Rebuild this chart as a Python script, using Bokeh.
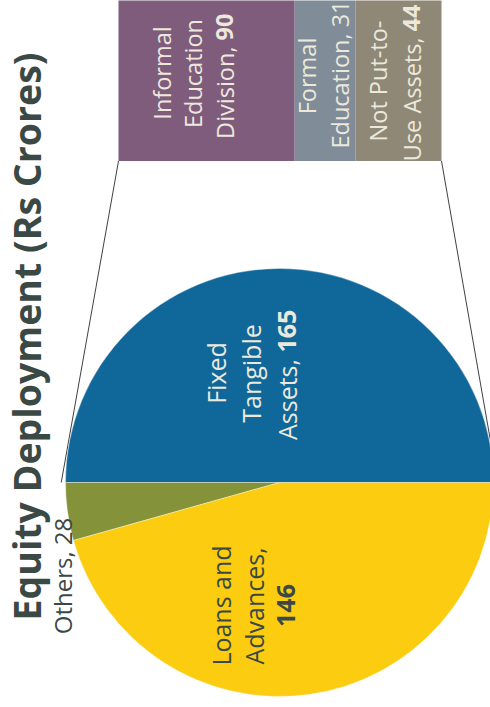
import math
from bokeh.plotting import figure
from bokeh.models import Range1d
from bokeh.embed import file_html
from bokeh.resources import INLINE
from bokeh.core.properties import value

# ---------------- data ----------------
title_text = "Equity Deployment (Rs Crores)"

pie_names = ["Fixed Tangible Assets", "Others", "Loans and Advances"]
pie_values = [165, 28, 146]
pie_sweep_deg = [180.0, 15.7, 164.3]     # slice sizes as drawn in the picture
pie_colors = ["#10679a", "#849339", "#fccc11"]

bar_names = ["Informal Education Division", "Formal Education", "Not Put-to-Use Assets"]
bar_values = [90, 31, 44]
bar_colors = ["#7f5c7c", "#808c97", "#8f8877"]

# ---------------- layout (reference pixel space) ----------------
REF_W, REF_H = 490, 707
def Y(sy):
    return REF_H - sy

FONT = value("Open Sans")
DARK = "#3b4944"
LIGHT = "#ece9dc"
BASE_K = 0.45   # anchor correction (fraction of font size)

PIE_CX, PIE_CY, PIE_R = 279.0, Y(482.0), 214.0
BAR_X0, BAR_X1 = 118.0, 441.0
BAR_BOTTOM, BAR_TOP = Y(160.5), Y(-30.0)

p = figure(width=REF_W, height=REF_H, x_range=Range1d(0, REF_W), y_range=Range1d(0, REF_H),
           output_backend="svg", toolbar_location=None, min_border=0,
           x_axis_type=None, y_axis_type=None)
p.outline_line_color = None
p.background_fill_color = "white"
p.border_fill_color = "white"

# slice angles
starts, ends = [], []
a = 0.0
for d in pie_sweep_deg:
    starts.append(a)
    a += math.radians(d)
    ends.append(a)

# connector lines (bar bottom corners -> edges of the expanded slice)
cr = PIE_R * 1.02
p.segment(x0=[BAR_X0, BAR_X1], y0=[BAR_BOTTOM, BAR_BOTTOM],
          x1=[PIE_CX + cr * math.cos(ends[0]), PIE_CX + cr * math.cos(starts[0])],
          y1=[PIE_CY + cr * math.sin(ends[0]), PIE_CY + cr * math.sin(starts[0])],
          line_color="#404040", line_width=1)

# pie
p.wedge(x=[PIE_CX] * 3, y=[PIE_CY] * 3, radius=PIE_R, start_angle=starts, end_angle=ends,
        fill_color=pie_colors, line_color="white", line_width=0.6, line_alpha=0.6)

# stacked bar
scale = (BAR_X1 - BAR_X0) / sum(bar_values)
lefts, rights = [], []
c = 0
for v in bar_values:
    lefts.append(BAR_X0 + c * scale)
    c += v
    rights.append(BAR_X0 + c * scale)
p.quad(left=lefts, right=rights, bottom=[BAR_BOTTOM] * 3, top=[BAR_TOP] * 3,
       fill_color=bar_colors, line_color=None)


def txt(x, y, s, size, color, bold=False, align="center"):
    p.text(x=[x - BASE_K * size], y=[y], text=[s], angle=math.pi / 2, text_align=align,
           text_baseline="alphabetic", text_font=FONT, text_font_size=f"{size}px",
           text_color=color, text_font_style="bold" if bold else "normal")


def split_line(bx, bold_start_sy, gap, reg, bold, size, color):
    txt(bx, Y(bold_start_sy), bold, size, color, bold=True, align="left")
    txt(bx, Y(bold_start_sy + gap), reg, size, color, bold=False, align="right")


PIE_FS, BAR_FS = 25, 23.5

# title
txt(43, Y(336), title_text, 37.5, DARK, bold=True)

# pie labels
txt(226.7, Y(372.5), "Fixed", PIE_FS, LIGHT)
txt(261.7, Y(373), "Tangible", PIE_FS, LIGHT)
split_line(298, 352, 6.5, "Assets,", f"{pie_values[0]}", PIE_FS, LIGHT)

txt(231.7, Y(605), "Loans and", PIE_FS, DARK)
txt(265, Y(605.5), "Advances,", PIE_FS, DARK)
txt(296.7, Y(605), f"{pie_values[2]}", PIE_FS, DARK, bold=True)

txt(73, Y(575.5), f"{pie_names[1]}, {pie_values[1]}", 24, DARK)

# bar labels
txt(171.7, Y(72.5), "Informal", BAR_FS, LIGHT)
txt(203, Y(73), "Education", BAR_FS, LIGHT)
split_line(235, 40, 6, "Division,", f"{bar_values[0]}", BAR_FS, LIGHT)

txt(316.7, Y(75.5), "Formal", BAR_FS, LIGHT)
txt(350, Y(74), f"Education, {bar_values[1]}", BAR_FS, LIGHT)

txt(388, Y(80.5), "Not Put-to-", BAR_FS, LIGHT)
split_line(422, 31, 6, "Use Assets,", f"{bar_values[2]}", BAR_FS, LIGHT)

open("out.html", "w").write(file_html(p, INLINE))
